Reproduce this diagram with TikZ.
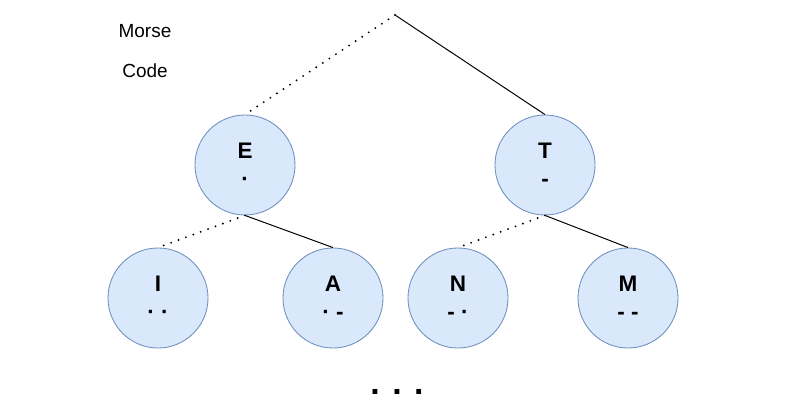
\documentclass[tikz,border=0pt]{standalone}
\usepackage{fontspec}
\setmainfont{Liberation Sans}
\usepackage{xcolor}
\usetikzlibrary{positioning}
\definecolor{nodefill}{HTML}{DAE8FC}
\definecolor{nodeline}{HTML}{6C8EBF}

\begin{document}
\begin{tikzpicture}[
    x=0.025cm, y=-0.025cm,
    letter/.style={draw=nodeline, fill=nodefill, circle, line width=0.6pt, minimum size=2.5cm, inner sep=0pt, align=center, font=\bfseries\fontsize{16}{18}\selectfont},
    dotline/.style={draw, line width=1.5pt, line cap=round, dash pattern=on 0pt off 5.6pt},
    dashline/.style={draw, line width=0.7pt}
]
\useasboundingbox (0,0) rectangle (793,419);

\node[font=\fontsize{13.5}{16}\selectfont] (title1) at (145,31) {Morse};
\node[font=\fontsize{13.5}{16}\selectfont] (title2) at (145,71) {Code};

\coordinate (root) at (395,15);

\node[letter] (E) at (245,165) {E\\[2pt]·};
\node[letter] (T) at (545,165) {T\\[2pt]-};

\node[letter] (I) at (158,298) {I\\[2pt]· ·};
\node[letter] (A) at (333,298) {A\\[2pt]· -};
\node[letter] (N) at (458,298) {N\\[2pt]- ·};
\node[letter] (M) at (628,298) {M\\[2pt]- -};

\draw[dotline] (root) -- (E.north);
\draw[dashline] (root) -- (T.north);
\draw[dotline] (E.south) -- (I.north);
\draw[dashline] (E.south) -- (A.north);
\draw[dotline] (T.south) -- (N.north);
\draw[dashline] (T.south) -- (M.north);

\node[font=\bfseries\fontsize{24}{26}\selectfont] (more) at (397,392) {. . .};

\end{tikzpicture}
\end{document}
